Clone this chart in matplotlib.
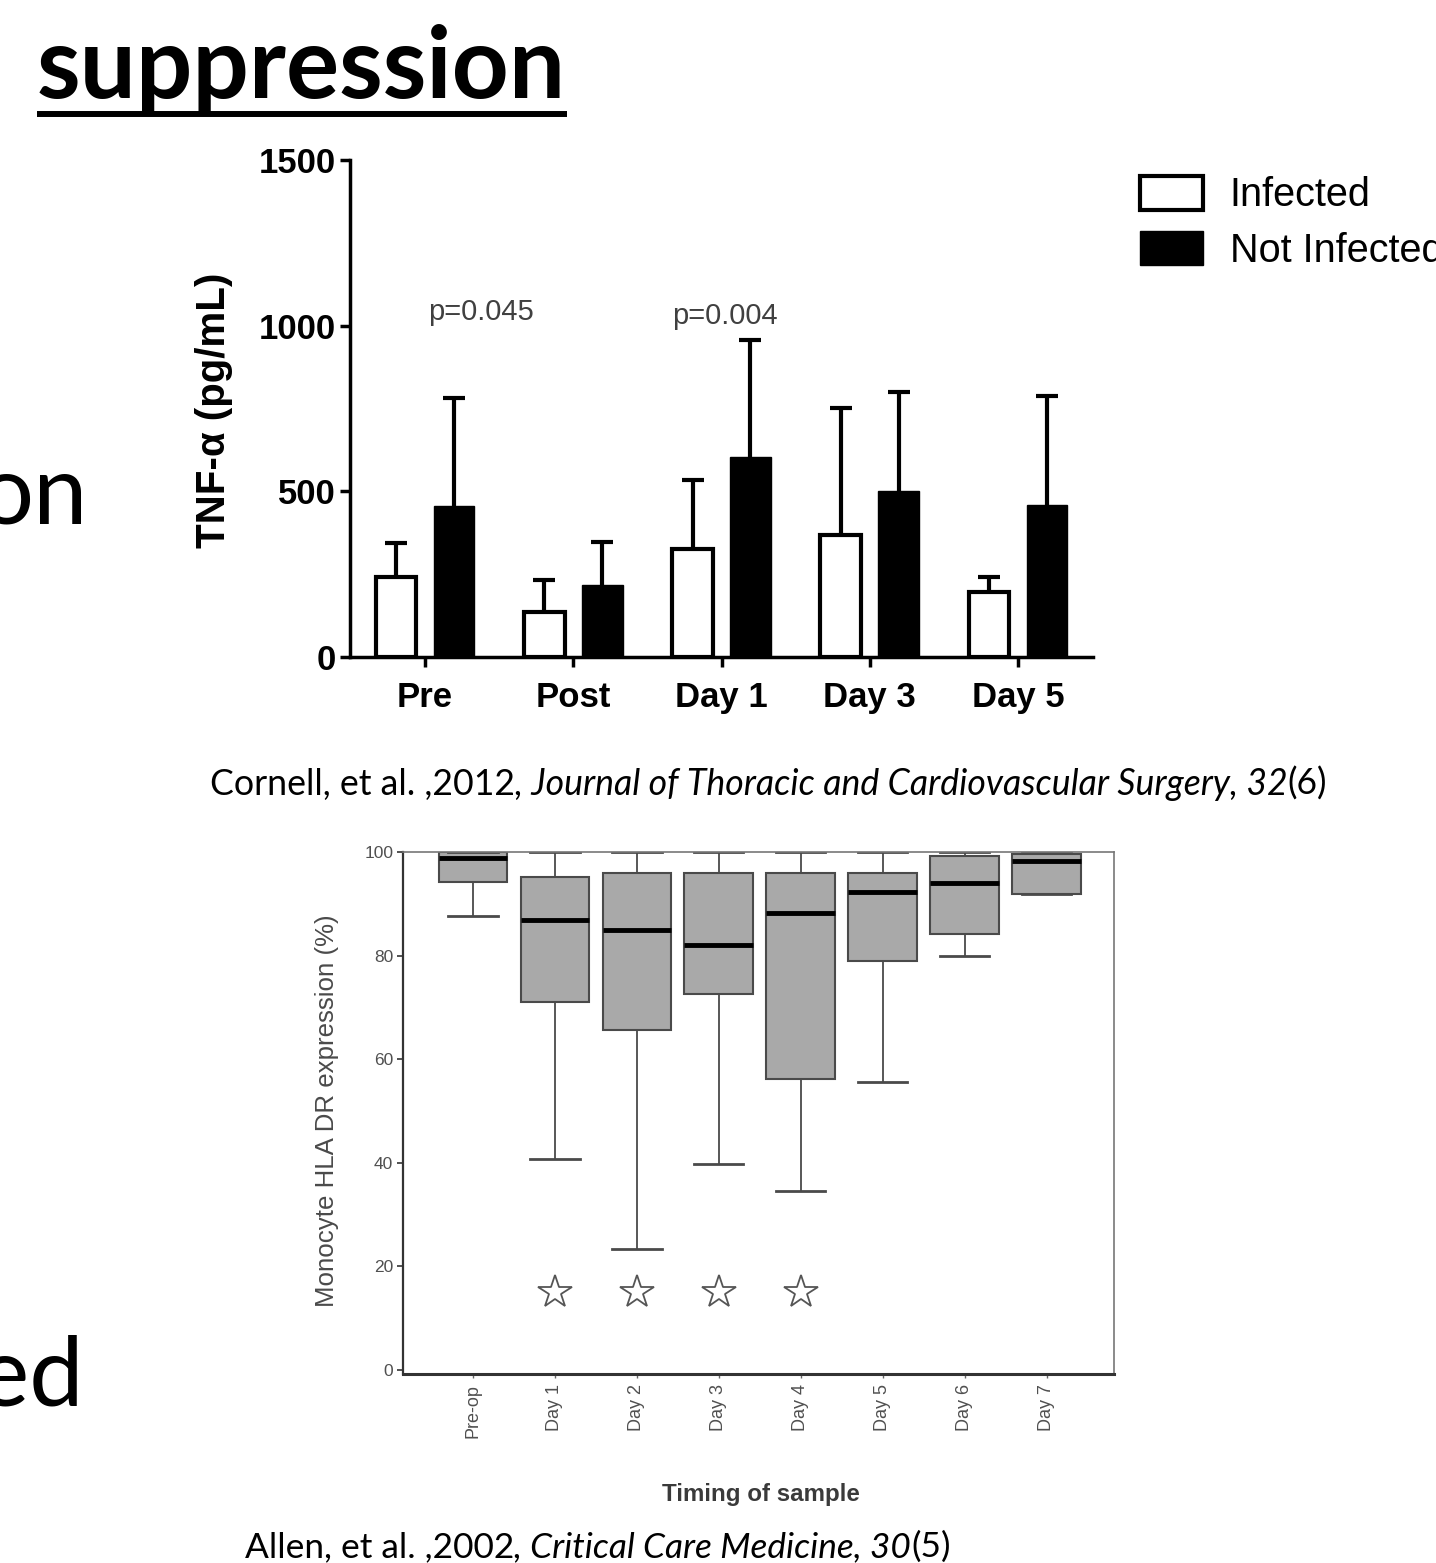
import matplotlib
matplotlib.use('Agg')
import matplotlib.pyplot as plt
from matplotlib.patches import Patch
from matplotlib.lines import Line2D
from matplotlib.font_manager import FontProperties
import numpy as np

W, H, DPI = 1436, 1563, 100

# ---------------- data: top chart (TNF-alpha) ----------------
tnf_categories = ["Pre", "Post", "Day 1", "Day 3", "Day 5"]
infected_mean = [242, 136, 326, 368, 196]
infected_sd = [102, 95, 207, 384, 45]
not_infected_mean = [455, 216, 604, 502, 460]
not_infected_sd = [326, 130, 354, 299, 329]
tnf_yticks = [0, 500, 1000, 1500]
series_labels = ["Infected", "Not Infected"]
p_labels = ["p=0.045", "p=0.004"]
p_category_index = [0, 2]
p_values_y = [1040, 1028]

# ---------------- data: bottom chart (HLA-DR) ----------------
hla_labels = ["Pre-op", "Day 1", "Day 2", "Day 3", "Day 4", "Day 5", "Day 6", "Day 7"]
hla_q1 = [94.2, 71.1, 65.6, 72.5, 56.2, 79.0, 84.2, 91.8]
hla_median = [98.9, 86.9, 85.0, 82.0, 88.3, 92.2, 94.0, 98.3]
hla_q3 = [100, 95.2, 95.9, 95.9, 95.9, 95.9, 99.3, 99.7]
hla_whislo = [87.6, 40.7, 23.4, 39.7, 34.5, 55.5, 79.9, 91.8]
hla_whishi = [100, 100, 100, 100, 100, 100, 100, 100]
star_days = [1, 2, 3, 4]
star_values = [15, 15, 15, 15]
hla_yticks = [0, 20, 40, 60, 80, 100]

plt.rcParams['font.family'] = ['Liberation Sans', 'DejaVu Sans']

fig = plt.figure(figsize=(W / DPI, H / DPI), dpi=DPI)
renderer = fig.canvas.get_renderer()


def fx(px):
    return px / W


def fy(py):
    return 1 - py / H


def measure(s, size, **kw):
    t = fig.text(0, 0, s, fontsize=size, **kw)
    w = t.get_window_extent(renderer).width
    t.remove()
    return w


def fit_size(s, target, **kw):
    return 20 * target / measure(s, 20, **kw)


def rich(x_px, y_px, pieces, target, family='Lato'):
    total = sum(measure(s, 20, family=family, style=st) for s, st in pieces)
    size = 20 * target / total
    cur = x_px
    for s, st in pieces:
        t = fig.text(fx(cur), fy(y_px), s, fontsize=size, family=family, style=st,
                     ha='left', va='baseline', color='black')
        cur += t.get_window_extent(renderer).width


# ---------------- slide title & cut-off body text ----------------
tsize = fit_size("suppression", 530, family='Lato', weight='bold')
fig.text(fx(37), fy(98), "suppression", fontsize=tsize, family='Lato', weight='bold',
         ha='left', va='baseline')
fig.add_artist(Line2D([fx(37), fx(567)], [fy(114), fy(114)], transform=fig.transFigure,
                      color='black', linewidth=4.3, solid_capstyle='butt'))
fig.text(fx(88), fy(523), "on", fontsize=70, family='Lato', ha='right', va='baseline')
fig.text(fx(84), fy(1406), "ed", fontsize=70, family='Lato', ha='right', va='baseline')

# ---------------- top chart ----------------
ax1 = fig.add_axes([fx(350), fy(657), (1093 - 350) / W, (657 - 160) / H])
x = np.arange(len(tnf_categories))
bw, off = 0.275, 0.195
for xs, mean, sd in [(x - off, infected_mean, infected_sd), (x + off, not_infected_mean, not_infected_sd)]:
    _, caps, _ = ax1.errorbar(xs, mean, yerr=[np.zeros(len(x)), sd], fmt='none',
                              ecolor='black', elinewidth=3, capsize=8, capthick=3, zorder=2)
    # only the upper cap is drawn in the reference
    if len(caps) == 2:
        caps[0].set_visible(False)
ax1.bar(x - off, infected_mean, bw, facecolor='white', edgecolor='black', linewidth=3, zorder=3)
ax1.bar(x + off, not_infected_mean, bw, facecolor='black', edgecolor='black', linewidth=1, zorder=3)
ax1.set_xlim(-0.506, len(x) - 1 + 0.506)
ax1.set_ylim(0, 1500)
for side in ['top', 'right']:
    ax1.spines[side].set_visible(False)
for side in ['left', 'bottom']:
    ax1.spines[side].set_linewidth(2.5)
ax1.set_yticks(tnf_yticks)
ax1.set_xticks(x)
ax1.set_xticklabels(tnf_categories)
ax1.tick_params(axis='both', width=2.5, length=7.5, labelsize=25)
ax1.tick_params(axis='x', pad=10)
ax1.tick_params(axis='y', pad=3)
for lbl in ax1.get_xticklabels() + ax1.get_yticklabels():
    lbl.set_fontweight('bold')
for idx, lab, yv, dx in zip(p_category_index, p_labels, p_values_y, [0.38, 0.02]):
    ax1.text(idx + dx, yv, lab, ha='center', va='center', fontsize=21, color='#404040')
ylsize = fit_size("TNF-α (pg/mL)", 275, weight='bold')
fig.text(fx(214), fy(410), "TNF-α (pg/mL)", rotation=90, ha='center', va='center',
         fontsize=ylsize, weight='bold')

handles = [Patch(facecolor='white', edgecolor='black', linewidth=3),
           Patch(facecolor='black', edgecolor='black')]
fig.legend(handles, series_labels, loc='upper left', bbox_to_anchor=(fx(1140), fy(176)),
           frameon=False, borderpad=0, borderaxespad=0, handlelength=1.6, handleheight=0.93,
           handletextpad=0.67, labelspacing=0.42, prop=FontProperties(family='Liberation Sans', size=28.5))

rich(210, 795, [("Cornell, et al. ,2012", 'normal'),
                (", Journal of Thoracic and Cardiovascular Surgery, 32", 'italic'),
                ("(6)", 'normal')], 1115)

# ---------------- bottom chart ----------------
ax2 = fig.add_axes([fx(403), fy(1374), (1114 - 403) / W, (1374 - 852) / H])
stats = [dict(med=m, q1=a, q3=b, whislo=lo, whishi=hi, fliers=[], label=l)
         for m, a, b, lo, hi, l in zip(hla_median, hla_q1, hla_q3, hla_whislo, hla_whishi, hla_labels)]
ax2.bxp(stats, positions=range(len(stats)), widths=0.84, patch_artist=True, showfliers=False,
        capwidths=0.6,
        boxprops=dict(facecolor='#a9a9a9', edgecolor='#4a4a4a', linewidth=1.5),
        medianprops=dict(color='black', linewidth=3.5),
        whiskerprops=dict(color='#4a4a4a', linewidth=1.3),
        capprops=dict(color='#4a4a4a', linewidth=2))
ax2.plot(star_days, star_values, linestyle='none', marker='*', markersize=25,
         markerfacecolor='white', markeredgecolor='#555555', markeredgewidth=1.3)
ax2.set_xlim(-0.854, len(stats) - 1 + 0.82)
ax2.set_ylim(-0.8, 100)
ax2.set_yticks(hla_yticks)
ax2.set_xticks(range(len(stats)))
ax2.set_xticklabels(hla_labels, rotation=90, fontsize=13, color='#505050')
ax2.tick_params(axis='y', length=4, width=1.2, color='#333333', labelsize=12.5, labelcolor='#505050', pad=3)
ax2.tick_params(axis='x', length=3, width=1, color='#666666', pad=4)
ax2.spines['left'].set_linewidth(1.6)
ax2.spines['left'].set_color('#333333')
ax2.spines['bottom'].set_linewidth(2.2)
ax2.spines['bottom'].set_color('#333333')
for side in ['top', 'right']:
    ax2.spines[side].set_linewidth(1.2)
    ax2.spines[side].set_color('#777777')
hl = "Monocyte HLA DR expression (%)"
fig.text(fx(327), fy(1111), hl, rotation=90, ha='center', va='center',
         fontsize=fit_size(hl, 393), color='#4a4a4a')
fig.text(fx(761), fy(1494), "Timing of sample", ha='center', va='center',
         fontsize=fit_size("Timing of sample", 198, weight='bold'), weight='bold', color='#3a3a3a')

rich(245, 1557, [("Allen, et al. ,2002", 'normal'),
                 (", Critical Care Medicine, 30", 'italic'),
                 ("(5)", 'normal')], 705)

fig.savefig("out.png", dpi=DPI)
